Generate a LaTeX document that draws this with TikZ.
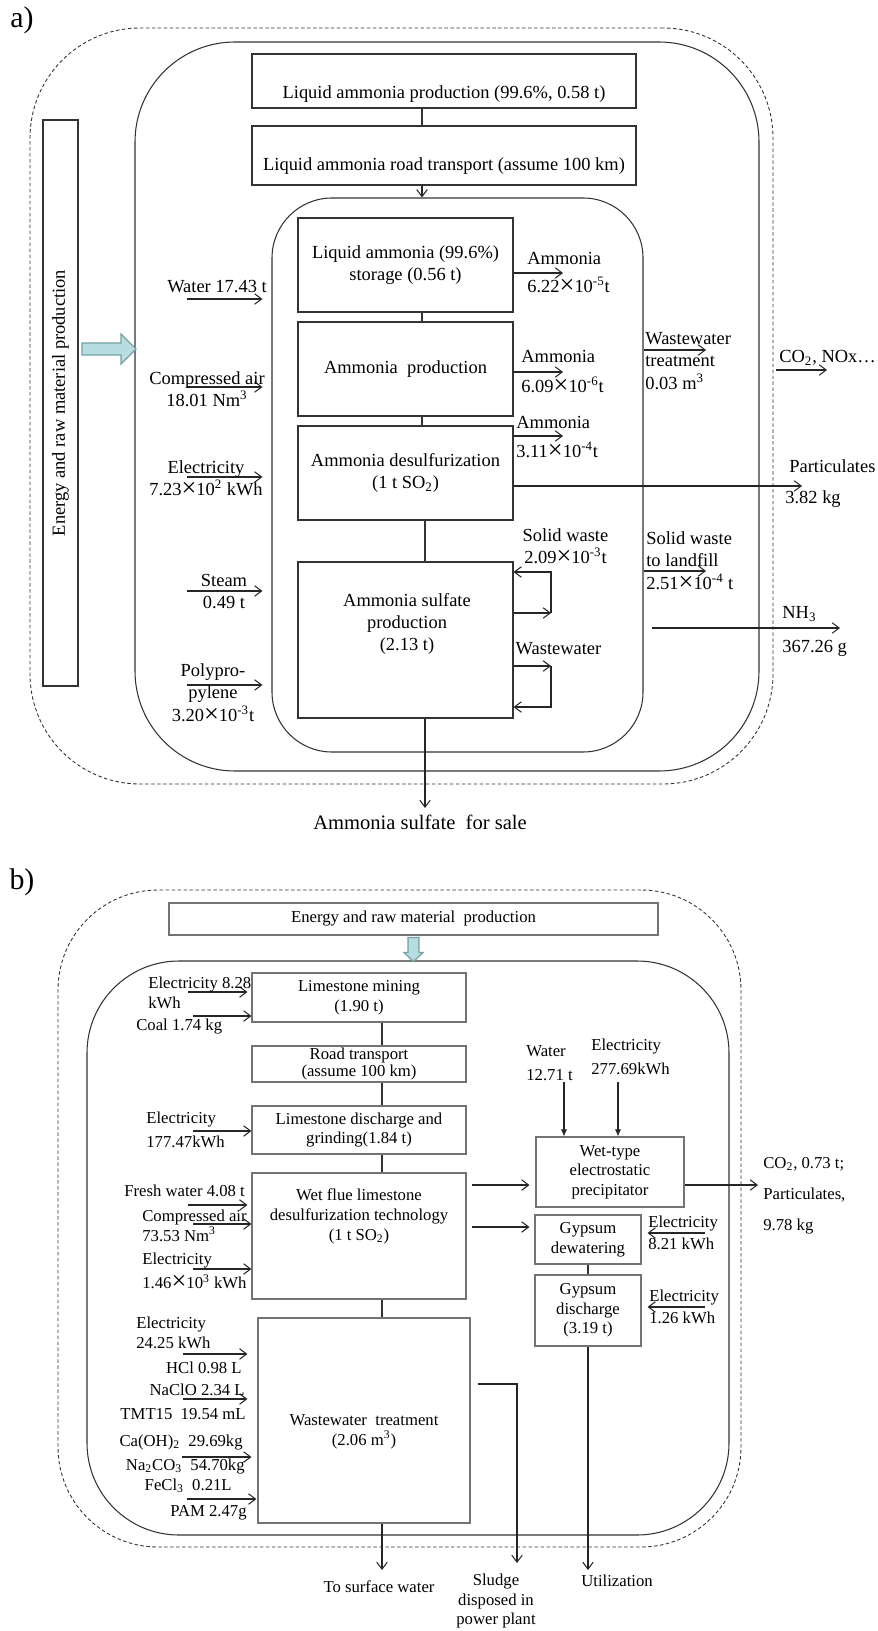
\documentclass[tikz,border=0pt]{standalone}
\usepackage{fontspec}
\setmainfont{Liberation Serif}
\usepackage{tikz}
\usetikzlibrary{arrows.meta, positioning, calc}

\definecolor{arrowfill}{RGB}{183,221,224}
\definecolor{arrowedge}{RGB}{118,160,163}
\newcommand{\tms}{\raisebox{-0.6pt}{\fontsize{15}{15}\selectfont ×}}

\begin{document}
\begin{tikzpicture}[x=0.02cm, y=-0.02cm,
    sysframe/.style={draw=black!80, line width=0.6pt, rectangle, rounded corners=#1},
    dframe/.style={draw=black!80, line width=0.5pt, dash pattern=on 2pt off 1.4pt, rectangle, rounded corners=#1},
    procbox/.style={draw=black!80, line width=0.6pt, rectangle, inner sep=0pt, align=center},
    gbox/.style={draw=black!55, line width=0.6pt, rectangle, inner sep=0pt, align=center},
    wh/.style 2 args={minimum width=#1*0.02cm, minimum height=#2*0.02cm},
    lbl/.style={inner sep=0pt, align=center},
    fa/.style={font=\fontsize{10.5}{12.6}\selectfont},
    fb/.style={font=\fontsize{9.5}{11.2}\selectfont},
    link/.style={draw=black!80, line width=0.6pt},
    flow/.style={draw=black!85, line width=0.6pt, -{Straight Barb[length=4pt,width=6pt]}},
    feed/.style={draw=black!85, line width=0.6pt, -{Latex[length=4pt,width=3.5pt]}},
    bigarrow/.style={draw=arrowedge, fill=arrowfill, line width=0.7pt}]
\useasboundingbox (0,0) rectangle (877,1631);

% ---------------- a) ammonia desulfurization ----------------
\node[lbl, font=\fontsize{17}{19}\selectfont] (lbla) at (22,20) {a)};

% system boundaries
\node[dframe=2.2cm, wh={743}{756}] (outa) at (401.5,406) {};
\node[sysframe=2cm, wh={624}{729}] (sys1) at (447,406.5) {};
\node[sysframe=1.2cm, wh={371}{554}] (sys2) at (457.5,475) {};

% energy and raw material input
\node[procbox, rotate=90, wh={566}{35}, fa] (erm) at (60.5,403) {Energy and raw material production};
\coordinate (ca) at (82,349);
\draw[bigarrow] (ca) ++(0,-6) -- ++(39,0) -- ++(0,-9) -- ++(15,15) -- ++(-15,15) -- ++(0,-9) -- ++(-39,0) -- cycle;

% process chain
\node[procbox, wh={384}{54}] (lap) at (444,81) {};
\node[lbl, fa] (lap-t) at (444,94) {Liquid ammonia production (99.6\%, 0.58 t)};
\node[procbox, wh={384}{59}] (lart) at (444,155.5) {};
\node[lbl, fa] (lart-t) at (444,166) {Liquid ammonia road transport (assume 100 km)};
\node[procbox, wh={215}{94}, fa] (stor) at (405.5,265) {Liquid ammonia (99.6\%)\\storage (0.56 t)};
\node[procbox, wh={215}{94}, fa] (prod) at (405.5,369) {Ammonia\ \ production};
\node[procbox, wh={215}{94}, fa] (desul) at (405.5,473) {Ammonia desulfurization\\(1 t SO\textsubscript{2})};
\node[procbox, wh={215}{156}] (sulf) at (405.5,640) {};
\node[lbl, fa] (sulf-t) at (407,624) {Ammonia sulfate\\production\\(2.13 t)};
\node[lbl, font=\fontsize{11.7}{14}\selectfont] (sale) at (420,822) {Ammonia sulfate\ \ for sale};

\coordinate (spa) at (422,0);
\coordinate (spb) at (425,0);
\coordinate (sale-a) at (425,808);
\draw[link] (lap.south -| spa) -- (lart.north -| spa);
\draw[flow] (lart.south -| spa) -- (sys2.north -| spa);
\draw[link] (stor.south -| spa) -- (prod.north -| spa);
\draw[link] (prod.south -| spa) -- (desul.north -| spa);
\draw[link] (desul.south -| spb) -- (sulf.north -| spb);
\draw[flow] (sulf.south -| spb) -- (sale-a);

% inputs
\foreach \n/\yy in {w/299, a/387, e/477, s/591, p/685} {
  \coordinate (in-\n) at (187,\yy);
  \draw[flow, shorten >=0.18cm] (in-\n) -- (in-\n -| sys2.west);
}
\node[lbl, fa] (l-water) at (217,287) {Water 17.43 t};
\node[lbl, fa] (l-air) at (207,389) {Compressed air\\18.01 Nm\textsuperscript{3}};
\node[lbl, fa] (l-elec) at (206,479) {Electricity\\7.23\tms10\textsuperscript{2} kWh};
\node[lbl, fa] (l-steam) at (224,591.5) {Steam\\0.49 t};
\node[lbl, fa] (l-pp) at (213,693) {Polypro-\\pylene\\3.20\tms10\textsuperscript{-3}t};

% emissions inside the plant
\coordinate (am1) at (563,273);
\coordinate (am2) at (563,372);
\coordinate (am3) at (563,436);
\draw[flow] (am1 -| stor.east) -- (am1);
\draw[flow] (am2 -| prod.east) -- (am2);
\draw[flow] (am3 -| desul.east) -- (am3);
\node[lbl, fa, anchor=west, align=left] (l-am1) at (527,273) {Ammonia\\[3pt]6.22\tms10\textsuperscript{-5}t};
\node[lbl, fa, anchor=west, align=left] (l-am2) at (521,372) {Ammonia\\[4pt]6.09\tms10\textsuperscript{-6}t};
\node[lbl, fa, anchor=west, align=left] (l-am3) at (516,437.5) {Ammonia\\[3.5pt]3.11\tms10\textsuperscript{-4}t};

\coordinate (pt) at (802,486);
\draw[flow] (pt -| desul.east) -- (pt);
\node[lbl, fa, anchor=west] (l-part) at (789,466) {Particulates};
\node[lbl, fa, anchor=west] (l-part2) at (785,499) {3.82 kg};

% recycling loops
\coordinate (sw1) at (551,613);
\coordinate (sw2) at (551,572);
\draw[flow] (sw1 -| sulf.east) -- (sw1);
\draw[flow] (sw1) -- (sw2) -- (sw2 -| sulf.east);
\node[lbl, fa] (l-sw) at (565.5,547) {Solid waste\\2.09\tms10\textsuperscript{-3}t};
\coordinate (ww1) at (551,666);
\coordinate (ww2) at (551,707);
\draw[flow] (ww1 -| sulf.east) -- (ww1);
\draw[flow] (ww1) -- (ww2) -- (ww2 -| sulf.east);
\node[lbl, fa] (l-ww) at (558.5,649) {Wastewater};

% outputs of the inner boundary
\coordinate (wt) at (706,350);
\draw[flow] (wt -| sys2.east) -- (wt);
\node[lbl, fa, anchor=west, align=left] (l-wt) at (645,361) {Wastewater\\treatment\\0.03 m\textsuperscript{3}};
\coordinate (lf) at (706,571);
\draw[flow] (lf -| sys2.east) -- (lf);
\node[lbl, fa, anchor=west, align=left] (l-lf) at (646,561) {Solid waste\\to landfill\\2.51\tms10\textsuperscript{-4} t};

% outputs to the environment
\coordinate (co2-s) at (776,370);
\coordinate (co2-e) at (827,370);
\draw[flow] (co2-s) -- (co2-e);
\node[lbl, fa, anchor=west] (l-co2) at (779,358) {CO\textsubscript{2}, NOx…};
\coordinate (nh3-s) at (652,628);
\coordinate (nh3-e) at (840,628);
\draw[flow] (nh3-s) -- (nh3-e);
\node[lbl, fa, anchor=west] (l-nh3) at (782,614) {NH\textsubscript{3}};
\node[lbl, fa, anchor=west] (l-nh3b) at (782,648) {367.26 g};

% ---------------- b) limestone desulfurization ----------------
\node[lbl, font=\fontsize{17}{19}\selectfont] (lblb) at (22,882) {b)};

\node[dframe=2cm, wh={683}{657}] (outb) at (399.5,1218.5) {};
\node[sysframe=1.84cm, wh={642}{574}] (sysb) at (408,1248) {};

\node[gbox, wh={489}{32}, fb] (ermb) at (413.5,919) {Energy and raw material\ \ production};
\path (ermb.south) ++(0,2) coordinate (cb);
\draw[bigarrow] (cb) ++(-5.5,0) -- ++(11,0) -- ++(0,15) -- ++(4,0) -- ++(-9.5,9) -- ++(-9.5,-9) -- ++(4,0) -- cycle;

% main chain
\node[gbox, wh={214}{49}, fb] (mine) at (359,997.5) {Limestone mining\\(1.90 t)};
\node[gbox, wh={214}{36}, font=\fontsize{9.5}{9.8}\selectfont] (road) at (359,1064) {Road transport\\(assume 100 km)};
\node[gbox, wh={214}{48}, fb] (grind) at (359,1130) {Limestone discharge and\\grinding(1.84 t)};
\node[gbox, wh={214}{126}] (wfgd) at (359,1236) {};
\node[lbl, fb] (wfgd-t) at (359,1216.5) {Wet flue limestone\\desulfurization technology\\(1 t SO\textsubscript{2})};
\node[gbox, wh={212}{205}] (wwt) at (364,1420.5) {};
\node[lbl, fb] (wwt-t) at (364,1431.5) {Wastewater\ \ treatment\\(2.06 m\textsuperscript{3})};

\coordinate (spc) at (382,0);
\draw[link] (mine.south -| spc) -- (road.north -| spc);
\draw[link] (road.south -| spc) -- (grind.north -| spc);
\draw[link] (grind.south -| spc) -- (wfgd.north -| spc);
\draw[link] (wfgd.south -| spc) -- (wwt.north -| spc);
\coordinate (tsw-a) at (382,1570);
\draw[flow] (wwt.south -| spc) -- (tsw-a);
\node[lbl, fb] (tsw) at (379,1587) {To surface water};

% gypsum side
\node[gbox, wh={148}{70}, fb] (esp) at (610,1172) {Wet-type\\electrostatic\\precipitator};
\node[gbox, wh={106}{49}, fb] (gdw) at (588,1239.5) {Gypsum\\dewatering};
\node[gbox, wh={106}{71}, fb] (gdc) at (588,1310.5) {Gypsum\\discharge\\(3.19 t)};
\draw[link] (gdw.south) -- (gdc.north);
\coordinate (util-a) at (588,1570);
\draw[flow] (gdc.south) -- (util-a);
\node[lbl, fb] (util) at (617,1581) {Utilization};

\coordinate (r1) at (0,1185);
\coordinate (r2) at (0,1227);
\draw[flow, shorten <=0.1cm, shorten >=0.12cm] (wfgd.east |- r1) -- (esp.west |- r1);
\draw[flow, shorten <=0.1cm, shorten >=0.1cm] (wfgd.east |- r2) -- (gdw.west |- r2);

\coordinate (espo) at (758,1185);
\draw[flow] (esp.east |- espo) -- (espo);
\node[lbl, fb, anchor=west, align=left] (l-esp) at (763,1195.5) {CO\textsubscript{2}, 0.73 t;\\[6.5pt]Particulates,\\[6.5pt]9.78 kg};

\coordinate (wtr) at (564,1082);
\coordinate (elc) at (618,1082);
\draw[feed] (wtr) -- (wtr |- esp.north);
\draw[feed] (elc) -- (elc |- esp.north);
\node[lbl, fb, anchor=west, align=left] (l-wtr) at (526,1063.5) {Water\\[2.5pt]12.71 t};
\node[lbl, fb, anchor=west, align=left] (l-elc) at (591,1056.5) {Electricity\\[2.5pt]277.69kWh};

\coordinate (ge1) at (705,1233);
\coordinate (ge2) at (705,1307);
\draw[flow, shorten >=0.12cm] (ge1) -- (ge1 -| gdw.east);
\draw[flow, shorten >=0.12cm] (ge2) -- (ge2 -| gdc.east);
\node[lbl, fb, anchor=west, align=left] (l-ge1) at (648,1232.5) {Electricity\\[1.5pt]8.21 kWh};
\node[lbl, fb, anchor=west, align=left] (l-ge2) at (649,1307) {Electricity\\[1.5pt]1.26 kWh};

% sludge
\coordinate (sl1) at (517,1384);
\coordinate (sl2) at (517,1563);
\draw[flow, shorten <=0.14cm] (wwt.east |- sl1) -- (sl1) -- (sl2);
\node[lbl, fb] (l-sl) at (496,1601) {Sludge\\disposed in\\power plant};

% inputs
\foreach \n/\xs/\yy/\tgt/\gap in {e1/188/992/mine/2.3, c/193/1016/mine/0, e2/193/1131/grind/0,
    fw/188/1205/wfgd/2.3, ca/193/1224/wfgd/0, e3/193/1269/wfgd/0,
    e4/183/1354/wwt/5.7, na/183/1399/wwt/5.7, ch/182/1457/wwt/3.4, fe/187/1499/wwt/0.6} {
  \coordinate (bin-\n) at (\xs,\yy);
  \draw[flow, shorten >=\gap pt] (bin-\n) -- (bin-\n -| \tgt.west);
}
\node[lbl, fb, anchor=west, align=left] (l-e1) at (148,992.5) {Electricity 8.28\\kWh};
\node[lbl, fb, anchor=west] (l-c) at (136,1027) {Coal 1.74 kg};
\node[lbl, fb, anchor=west, align=left] (l-e2) at (146,1129.5) {Electricity\\[2.5pt]177.47kWh};
\node[lbl, fb, anchor=west] (l-fw) at (124,1191) {Fresh water 4.08 t};
\node[lbl, fb, anchor=west, align=left] (l-ca) at (142,1225.5) {Compressed air\\73.53 Nm\textsuperscript{3}};
\node[lbl, fb, anchor=west, align=left] (l-e3) at (142,1271.5) {Electricity\\[2.5pt]1.46\tms10\textsuperscript{3} kWh};
\node[lbl, fb, anchor=west, align=left] (l-e4) at (136,1333) {Electricity\\24.25 kWh};
\node[lbl, fb, anchor=east] (l-hcl) at (242,1368) {HCl 0.98 L};
\node[lbl, fb, anchor=east] (l-na) at (245,1390) {NaClO 2.34 L};
\node[lbl, fb, anchor=east] (l-tmt) at (246,1414) {TMT15\ \ 19.54 mL};
\node[lbl, fb, anchor=east] (l-caoh) at (243,1442) {Ca(OH)\textsubscript{2}\ \ 29.69kg};
\node[lbl, fb, anchor=east] (l-nac) at (245,1466) {Na\textsubscript{2}CO\textsubscript{3}\ \ 54.70kg};
\node[lbl, fb, anchor=east] (l-fecl) at (232,1486) {FeCl\textsubscript{3}\ \ 0.21L};
\node[lbl, fb, anchor=east] (l-pam) at (247,1513) {PAM 2.47g};
\end{tikzpicture}
\end{document}
